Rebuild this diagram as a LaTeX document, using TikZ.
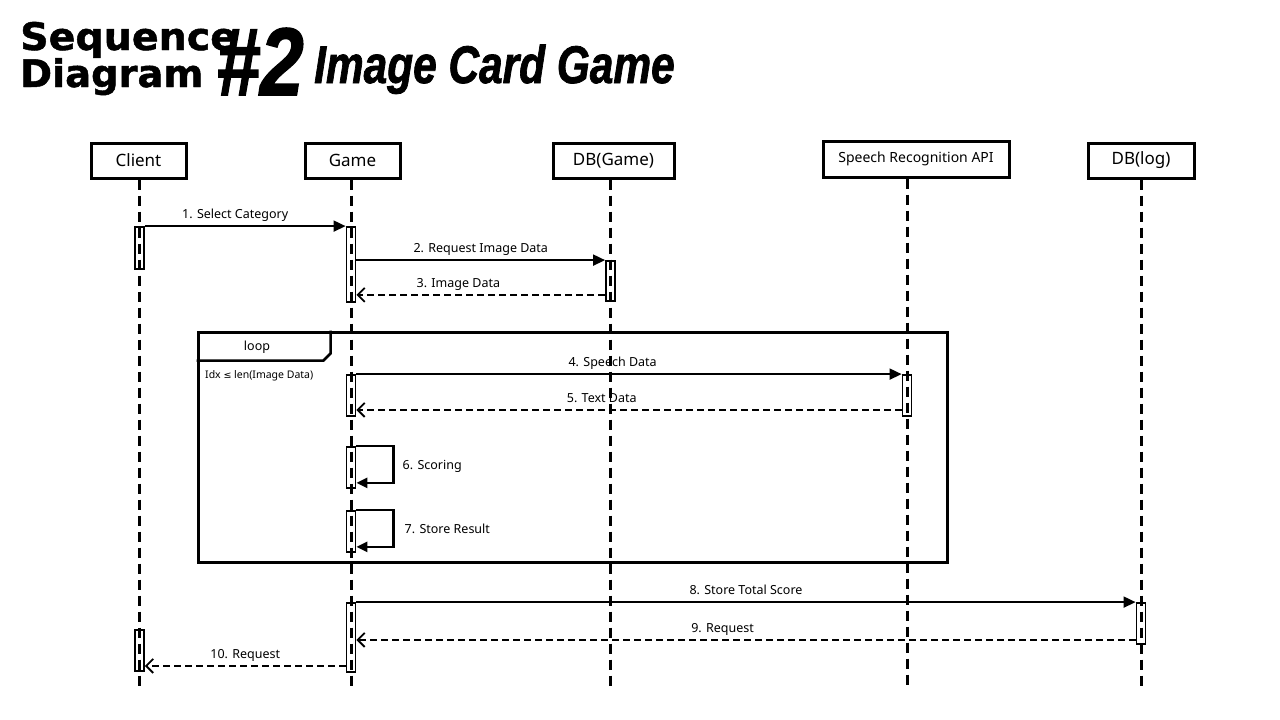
\documentclass[tikz,border=0pt]{standalone}
\usepackage{fontspec}
\setmainfont{Noto Sans}
\newfontfamily\titlefont{DejaVu Sans}[FakeBold=1.2]
\newfontfamily\impactfont{Liberation Sans}[FakeBold=1.6]
\newfontfamily\symfont{DejaVu Sans}
\usetikzlibrary{arrows.meta}
\tikzset{
  participant/.style={draw, line width=3pt, inner sep=0, minimum height=35pt, font=\fontsize{17}{20}\selectfont},
  lifeline/.style={line width=3pt, dash pattern=on 10pt off 6pt},
  act/.style={draw, line width=1.8pt, minimum width=9pt, inner sep=0},
  msg/.style={line width=1.8pt, -{Triangle[length=12pt,width=11pt]}},
  selfmsg/.style={line width=2.6pt, line join=miter, -{Triangle[length=11pt,width=10pt]}},
  ret/.style={line width=1.8pt, dash pattern=on 7pt off 4pt, -{Straight Barb[length=7pt,width=14pt,line width=1.8pt]}},
  lbl/.style={font=\fontsize{12.5}{14}\selectfont, inner sep=0, text height=9pt, text depth=3pt},
}
\begin{document}
\begin{tikzpicture}[x=1pt,y=-1pt]
\useasboundingbox (0,0) rectangle (1280,720);
\fill[white] (0,0) rectangle (1280,720);

% title
\node[anchor=base west, inner sep=0, font=\titlefont\bfseries\fontsize{38}{38}\selectfont] (t1) at (20,50) {\scalebox{1.04}[1]{Sequence}};
\node[anchor=base west, inner sep=0, font=\titlefont\bfseries\fontsize{38}{38}\selectfont] (t2) at (20,87) {\scalebox{1.01}[1]{Diagram}};
\node[anchor=base west, inner sep=0, font=\impactfont\bfseries\itshape\fontsize{96}{96}\selectfont] (t3) at (216,95) {\scalebox{0.82}[1]{\#2}};
\node[anchor=base west, inner sep=0, font=\impactfont\bfseries\itshape\fontsize{53}{53}\selectfont] (t4) at (314,83) {\scalebox{0.80}[1]{Image Card Game}};

% participants
\node[participant, minimum width=95pt] (client) at (138.5,160.5) {Client};
\node[participant, minimum width=95pt] (game) at (352.5,160.5) {Game};
\node[participant, minimum width=121pt] (dbgame) at (613.5,160.5) {DB(Game)};
\node[participant, minimum width=186pt, minimum height=36pt, font=\fontsize{14}{17}\selectfont] (speech) at (916,159) {Speech Recognition API};
\node[participant, minimum width=106pt] (dblog) at (1141,160.5) {DB(log)};

\coordinate (clientEnd) at (139.5,690);
\coordinate (gameEnd) at (351,690);
\coordinate (dbgameEnd) at (610.5,690);
\coordinate (speechEnd) at (907,690);
\coordinate (dblogEnd) at (1141,690);

% loop frame
\node[draw, line width=3pt, minimum width=749pt, minimum height=230pt, inner sep=0] (loop) at (572.5,447) {};
\draw[line width=2.5pt, line join=miter] (loop.north west) ++(134,0) -- ++(0,23) -- ++(-7,7) -- ([yshift=-30pt]loop.north west);
\node[font=\fontsize{12.5}{14}\selectfont, inner sep=0] (looplbl) at (257,347) {loop};
\node[anchor=west, inner sep=0, font=\fontsize{10.5}{12}\selectfont] (guard) at (205,376) {Idx {\symfont\fontsize{9.5}{12}\selectfont ≤} len(Image Data)};

% lifelines
\draw[lifeline] (client.south -| clientEnd) -- (clientEnd);
\draw[lifeline] (game.south -| gameEnd) -- (gameEnd);
\draw[lifeline] (dbgame.south -| dbgameEnd) -- (dbgameEnd);
\draw[lifeline] (speech.south -| speechEnd) -- (speechEnd);
\draw[lifeline] (dblog.south -| dblogEnd) -- (dblogEnd);

% activations
\node[act, minimum height=42pt] (c1) at (139.5,248) {};
\node[act, minimum height=75pt] (g1) at (351,264.5) {};
\node[act, minimum height=40pt] (d1) at (610.5,281) {};
\node[act, minimum height=41pt] (g2) at (351,395.5) {};
\node[act, minimum height=41pt] (s1) at (907,395.5) {};
\node[act, minimum height=41pt] (g3) at (351,467.5) {};
\node[act, minimum height=41pt] (g4) at (351,531.5) {};
\node[act, minimum height=69pt] (g5) at (351,637.5) {};
\node[act, minimum height=41pt] (l1) at (1141,623.5) {};
\node[act, minimum height=41pt] (c2) at (139.5,650.5) {};

% helper coordinates for return messages
\path ([yshift=7pt]d1.south west) coordinate (m3);
\path ([yshift=7pt]s1.south west) coordinate (m5);
\path ([yshift=5pt]l1.south west) coordinate (m9);
\path ([yshift=7pt]g5.south west) coordinate (m10);

% messages
\draw[msg] (c1.north east) -- node[lbl, above=4pt, pos=0.45] {1. Select Category} (g1.north west);
\draw[msg] (g1.east |- d1.north) -- node[lbl, above=4pt, pos=0.5] {2. Request Image Data} (d1.north west);
\draw[ret] (m3) -- node[lbl, above=4pt, pos=0.59] {3. Image Data} (m3 -| g1.east);
\draw[msg] (g2.north east) -- node[lbl, above=4pt, pos=0.47] {4. Speech Data} (s1.north west);
\draw[ret] (m5) -- node[lbl, above=4pt, pos=0.55] {5. Text Data} (m5 -| g2.east);
\draw[selfmsg] (g3.north east) -- ++(37,0) |- node[lbl, right=8pt, pos=0.25, yshift=-2pt] {6. Scoring} ([yshift=6pt]g3.south east);
\draw[selfmsg] (g4.north east) -- ++(37,0) |- node[lbl, right=10pt, pos=0.25, yshift=-2pt] {7. Store Result} ([yshift=6pt]g4.south east);
\draw[msg] (g5.north east) -- node[lbl, above=4pt, pos=0.5] {8. Store Total Score} (l1.north west);
\draw[ret] (m9) -- node[lbl, above=4pt, pos=0.53] {9. Request} (m9 -| g5.east);
\draw[ret] (m10) -- node[lbl, above=4pt, pos=0.5] {10. Request} (m10 -| c2.east);
\end{tikzpicture}
\end{document}
